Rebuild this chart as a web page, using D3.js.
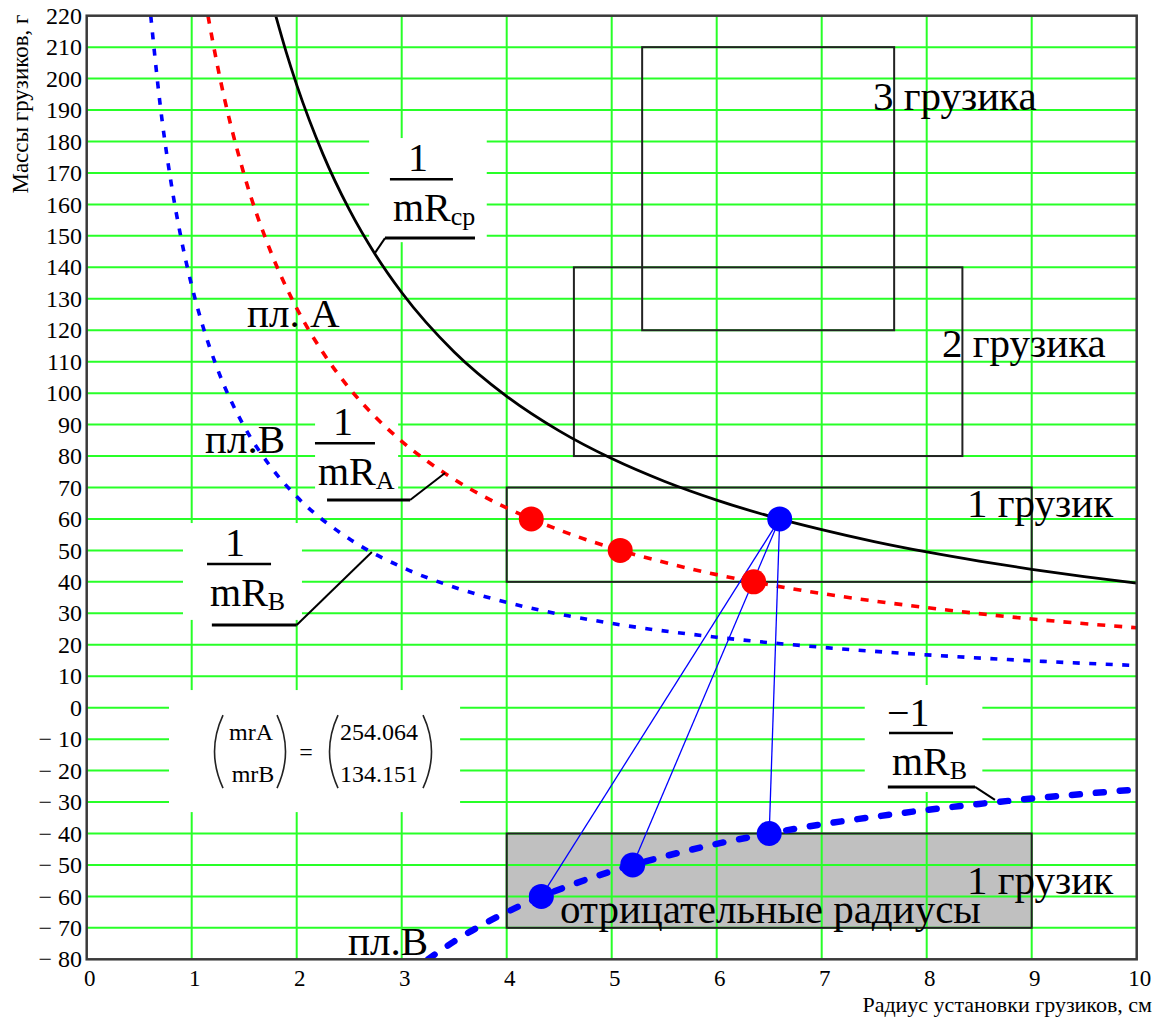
<!DOCTYPE html>
<html>
<head>
<meta charset="utf-8">
<script src="https://cdn.jsdelivr.net/npm/d3@7/dist/d3.min.js"></script>
<style>
  html, body { margin: 0; padding: 0; background: #fff; }
  svg { display: block; font-family: "Liberation Serif", "Times New Roman", serif; }
</style>
</head>
<body>
<svg id="chart" width="1156" height="1018"></svg>
<script>
// Axis ticks
const xTicks = [0, 1, 2, 3, 4, 5, 6, 7, 8, 9, 10];
const yTicks = [-80, -70, -60, -50, -40, -30, -20, -10, 0, 10, 20, 30, 40, 50, 60, 70, 80, 90,
  100, 110, 120, 130, 140, 150, 160, 170, 180, 190, 200, 210, 220];

// Constants shown in the result block
const mrA = 254.064;
const mrB = 134.151;

// 1/mRcp (black solid)
const cpR = [1.8, 1.9, 2, 2.25, 2.5, 2.75, 3, 3.5, 4, 4.5, 5, 5.5, 6, 6.5, 7, 7.5, 8, 8.5, 9, 9.5, 10];
const cpM = [220, 208.4, 198, 176, 158.4, 144, 132, 113.1, 99, 88, 79.2, 72, 66, 60.9, 56.6, 52.8, 49.5, 46.6, 44, 41.7, 39.6];

// 1/mRA (red dotted)
const aR = [1.155, 1.25, 1.5, 1.75, 2, 2.25, 2.5, 2.75, 3, 3.5, 4, 4.5, 5, 5.5, 6, 7, 8, 9, 10];
const aM = [220, 203.3, 169.4, 145.2, 127.0, 112.9, 101.6, 92.4, 84.7, 72.6, 63.5, 56.5, 50.8, 46.2, 42.3, 36.3, 31.8, 28.2, 25.4];

// 1/mRB (blue dotted)
const bR = [0.61, 0.7, 0.8, 0.9, 1, 1.1, 1.25, 1.5, 1.75, 2, 2.5, 3, 3.5, 4, 5, 6, 7, 8, 9, 10];
const bM = [220, 191.6, 167.7, 149.1, 134.2, 122.0, 107.3, 89.4, 76.7, 67.1, 53.7, 44.7, 38.3, 33.5, 26.8, 22.4, 19.2, 16.8, 14.9, 13.4];

// -1/mRB (blue thick dashed, negative radii)
const nR = [3.25, 3.5, 4, 4.5, 5, 5.5, 6, 6.5, 7, 7.5, 8, 8.5, 9, 9.5, 10];
const nM = [-80, -74.3, -65, -57.8, -52, -47.3, -43.3, -40, -37.1, -34.7, -32.5, -30.6, -28.9, -27.4, -26];

// Points
const redDotR = [4.234, 5.081, 6.352];
const redDotM = [60, 50, 40];
const topDotR = [6.6];
const topDotM = [60];
const lowDotR = [4.33, 5.2, 6.5];
const lowDotM = [-60, -50, -40];

// Weight-count zones
const zoneNames = ["3 грузика", "2 грузика", "1 грузик"];
const zoneR0 = [5.29, 4.64, 4.0];
const zoneR1 = [7.69, 8.34, 9.0];
const zoneM0 = [120, 80, 40];
const zoneM1 = [210, 140, 70];
const negZone = { r0: 4.0, r1: 9.0, m0: -70, m1: -40 };

const W = 1156, H = 1018;
const svg = d3.select("#chart");
const x = d3.scaleLinear().domain([0, 10]).range([86.7, 1136.7]);
const y = d3.scaleLinear().domain([-80, 220]).range([959.3, 15.7]);
const pts = (rs, ms) => rs.map((r, i) => [r, ms[i]]);

svg.append("rect").attr("width", W).attr("height", H).attr("fill", "#fff");

svg.append("defs").append("clipPath").attr("id", "plotClip")
  .append("rect").attr("x", x(0)).attr("y", y(220))
  .attr("width", x(10) - x(0)).attr("height", y(-80) - y(220));

// grey zone fill sits under the grid
svg.append("rect")
  .attr("x", x(negZone.r0)).attr("y", y(negZone.m1))
  .attr("width", x(negZone.r1) - x(negZone.r0)).attr("height", y(negZone.m0) - y(negZone.m1))
  .attr("fill", "#c0c0c0");

// grid
const grid = svg.append("g").attr("stroke", "#28ff28").attr("stroke-width", 2);
grid.selectAll(".gx").data(xTicks.slice(1, -1)).join("line")
  .attr("x1", d => x(d)).attr("x2", d => x(d)).attr("y1", y(220)).attr("y2", y(-80));
grid.selectAll(".gy").data(yTicks.slice(1, -1)).join("line")
  .attr("x1", x(0)).attr("x2", x(10)).attr("y1", d => y(d)).attr("y2", d => y(d));

// white backing of the formula labels
const boxes = [
  [2.69, 3.81, 148.0, 181.1],
  [2.175, 2.966, 64.4, 97.8],
  [0.917, 2.05, 27.9, 58.7],
  [7.41, 8.53, -26.8, 7.2],
  [0.784, 3.556, -33.2, 5.6]
];
svg.append("g").selectAll("rect").data(boxes).join("rect")
  .attr("x", d => x(d[0])).attr("y", d => y(d[3]))
  .attr("width", d => x(d[1]) - x(d[0])).attr("height", d => y(d[2]) - y(d[3]))
  .attr("fill", "#fff");

// zone outlines
const zones = svg.append("g").attr("fill", "none").attr("stroke", "#222").attr("stroke-width", 2);
zones.selectAll("rect").data(zoneNames).join("rect")
  .attr("x", (d, i) => x(zoneR0[i])).attr("y", (d, i) => y(zoneM1[i]))
  .attr("width", (d, i) => x(zoneR1[i]) - x(zoneR0[i]))
  .attr("height", (d, i) => y(zoneM0[i]) - y(zoneM1[i]));
zones.append("rect")
  .attr("x", x(negZone.r0)).attr("y", y(negZone.m1))
  .attr("width", x(negZone.r1) - x(negZone.r0)).attr("height", y(negZone.m0) - y(negZone.m1));

// curves
const line = d3.line().x(d => x(d[0])).y(d => y(d[1])).curve(d3.curveMonotoneX);
const curves = svg.append("g").attr("clip-path", "url(#plotClip)").attr("fill", "none");
curves.append("path").attr("d", line(pts(bR, bM)))
  .attr("stroke", "#0000ff").attr("stroke-width", 3.6).attr("stroke-dasharray", "7,9.5");
curves.append("path").attr("d", line(pts(aR, aM)))
  .attr("stroke", "#ff0000").attr("stroke-width", 3.6).attr("stroke-dasharray", "8,9");
curves.append("path").attr("d", line(pts(cpR, cpM)))
  .attr("stroke", "#000").attr("stroke-width", 2.8);
curves.append("path").attr("d", line(pts(nR, nM)))
  .attr("stroke", "#0000ff").attr("stroke-width", 6.5).attr("stroke-linecap", "round")
  .attr("stroke-dasharray", "8,16");

// links from the top point to the negative-radius points
svg.append("g").selectAll("line").data(pts(lowDotR, lowDotM)).join("line")
  .attr("x1", x(topDotR[0])).attr("y1", y(topDotM[0]))
  .attr("x2", d => x(d[0])).attr("y2", d => y(d[1]))
  .attr("stroke", "#0000ff").attr("stroke-width", 1.3);

// dots
svg.append("g").selectAll("circle").data(pts(redDotR, redDotM)).join("circle")
  .attr("cx", d => x(d[0])).attr("cy", d => y(d[1])).attr("r", 12.5).attr("fill", "#ff0000");
svg.append("g").selectAll("circle").data(pts(topDotR, topDotM).concat(pts(lowDotR, lowDotM))).join("circle")
  .attr("cx", d => x(d[0])).attr("cy", d => y(d[1])).attr("r", 12.5).attr("fill", "#0000ff");

// leader lines: [horizontal start, corner, end on curve]
const leaders = [
  [[3.698, 149.3], [2.841, 149.3], [2.746, 144.6]],
  [[2.289, 66.0], [3.08, 66.0], [3.413, 74.6]],
  [[1.192, 26.3], [2.0, 26.3], [2.716, 49.5]],
  [[7.63, -25.2], [8.46, -25.2], [8.65, -29.3]]
];
const lead = svg.append("g").attr("stroke", "#000").attr("fill", "none");
leaders.forEach(l => {
  lead.append("line").attr("x1", x(l[0][0])).attr("y1", y(l[0][1]))
    .attr("x2", x(l[1][0])).attr("y2", y(l[1][1])).attr("stroke-width", 3);
  lead.append("line").attr("x1", x(l[1][0])).attr("y1", y(l[1][1]))
    .attr("x2", x(l[2][0])).attr("y2", y(l[2][1])).attr("stroke-width", 2);
});

// fraction labels: bar left end (data coords), numerator, subscript
const fracs = [
  { r: 2.888, m: 168.0, w: 63, num: "1", sub: "ср" },
  { r: 2.174, m: 84.07, w: 60, num: "1", sub: "A" },
  { r: 1.146, m: 45.69, w: 64, num: "1", sub: "B" },
  { r: 7.641, m: -8.04, w: 64, num: "−1", sub: "B" }
];
fracs.forEach(f => {
  const bx = x(f.r), by = y(f.m);
  const g = svg.append("g");
  g.append("line").attr("x1", bx).attr("x2", bx + f.w).attr("y1", by).attr("y2", by)
    .attr("stroke", "#000").attr("stroke-width", 2.6);
  if (f.num === "1") {
    g.append("text").attr("x", bx + 28).attr("y", by - 8).attr("text-anchor", "middle")
      .attr("font-size", 40).text(f.num);
  } else {
    g.append("text").attr("x", bx - 2).attr("y", by - 7).attr("font-size", 40).text(f.num);
  }
  const t = g.append("text").attr("x", bx + 3).attr("y", by + 42).attr("font-size", 40);
  t.append("tspan").text("mR");
  t.append("tspan").attr("font-size", 26).attr("dy", 4).text(f.sub);
});

// plain labels
const labels = [
  { t: "3 грузика", r: 7.488, m: 190.0 },
  { t: "2 грузика", r: 8.146, m: 111.5 },
  { t: "1 грузик", r: 8.384, m: 60.6 },
  { t: "1 грузик", r: 8.384, m: -59.2 },
  { t: "отрицательные радиусы", r: 4.508, m: -68.4 },
  { t: "пл. A", r: 1.527, m: 121.0 },
  { t: "пл.B", r: 1.127, m: 81.0 },
  { t: "пл.B", r: 2.489, m: -78.6 }
];
svg.append("g").attr("font-size", 41).selectAll("text").data(labels).join("text")
  .attr("x", d => x(d.r)).attr("y", d => y(d.m)).text(d => d.t);

// result block (mrA; mrB) = (values)
const mg = svg.append("g").attr("transform", `translate(${x(0.784)},${y(5.6)})`)
  .attr("font-size", 24);
const paren = (px, dir) => `M${px},25 Q${px + dir * 17},61.5 ${px},98`;
mg.selectAll("path").data([[54, -1], [108, 1], [169, -1], [254, 1]]).join("path")
  .attr("d", d => paren(d[0], d[1])).attr("fill", "none").attr("stroke", "#222").attr("stroke-width", 1.6);
mg.append("text").attr("x", 82).attr("y", 50).attr("text-anchor", "middle").text("mrA");
mg.append("text").attr("x", 84).attr("y", 92).attr("text-anchor", "middle").text("mrB");
mg.append("text").attr("x", 137).attr("y", 70).attr("text-anchor", "middle").text("=");
mg.append("text").attr("x", 210).attr("y", 50).attr("text-anchor", "middle").text(mrA.toFixed(3));
mg.append("text").attr("x", 210).attr("y", 92).attr("text-anchor", "middle").text(mrB.toFixed(3));

// frame
svg.append("rect").attr("x", x(0)).attr("y", y(220))
  .attr("width", x(10) - x(0)).attr("height", y(-80) - y(220))
  .attr("fill", "none").attr("stroke", "#3a3a3a").attr("stroke-width", 2.5);

// tick labels
const fmtY = v => v < 0 ? "− " + Math.abs(v) : String(v);
svg.append("g").attr("font-size", 24).attr("text-anchor", "end")
  .selectAll("text").data(yTicks).join("text")
  .attr("x", 82).attr("y", d => y(d)).attr("dy", "0.34em").text(fmtY);
svg.append("g").attr("font-size", 23).attr("text-anchor", "middle")
  .selectAll("text").data(xTicks).join("text")
  .attr("x", d => x(d) + 3).attr("y", 986).text(d => d);

// axis titles
svg.append("text").attr("transform", "translate(28,104) rotate(-90)")
  .attr("text-anchor", "middle").attr("font-size", 23).text("Массы грузиков, г");
svg.append("text").attr("x", 1152).attr("y", 1012).attr("text-anchor", "end")
  .attr("font-size", 22).text("Радиус установки грузиков, см");
</script>
</body>
</html>
